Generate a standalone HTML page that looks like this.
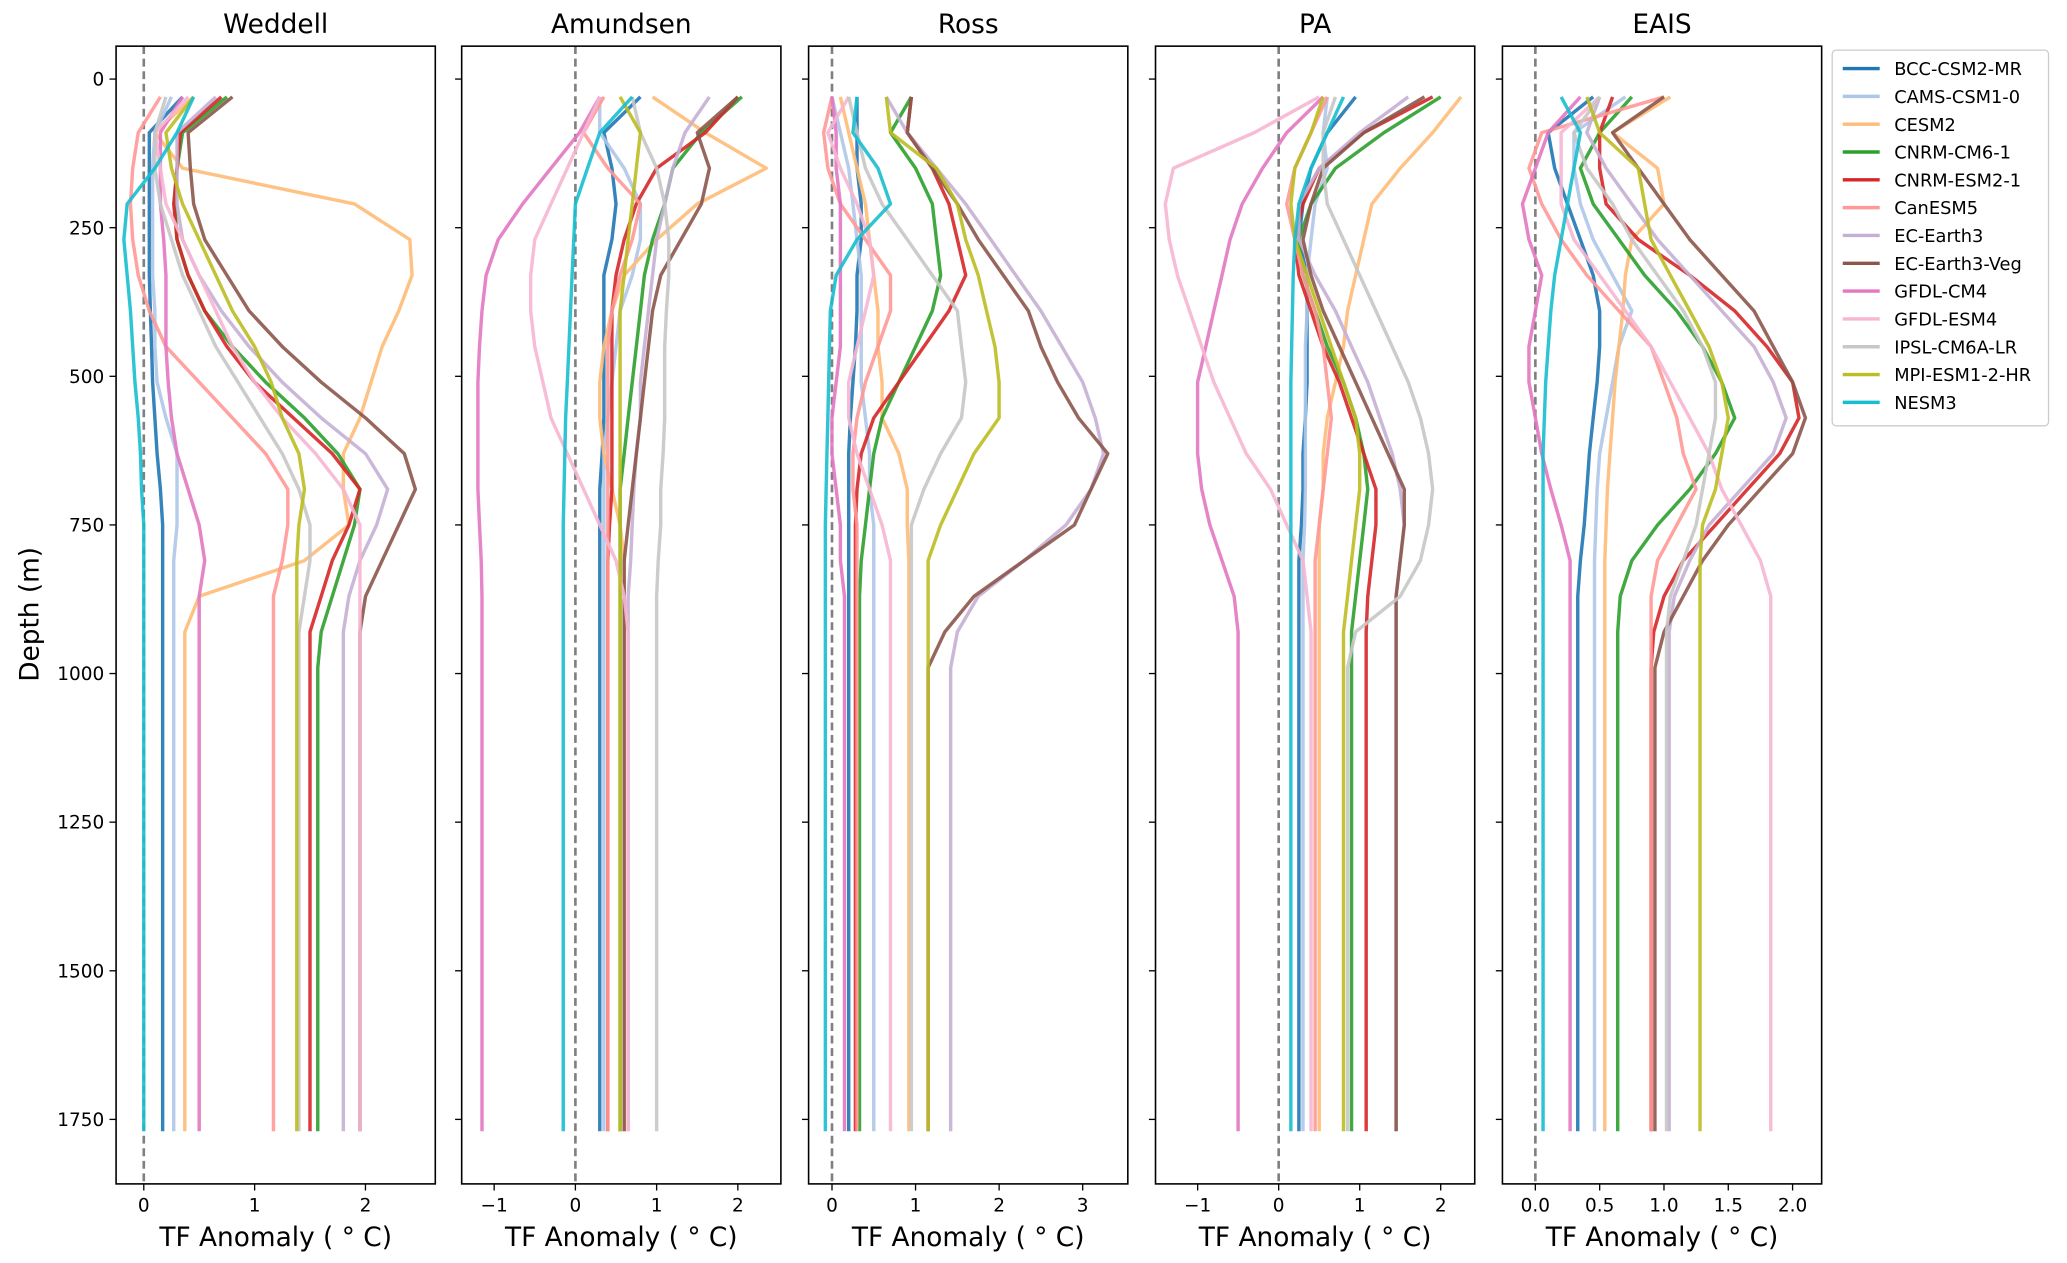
<!DOCTYPE html>
<html><head><meta charset="utf-8"><style>
html,body{margin:0;padding:0;background:#fff}
svg{display:block;font-family:"DejaVu Sans","Liberation Sans",sans-serif}
</style></head><body>
<svg id="chart" width="2067" height="1263" viewBox="0 0 1567 958" preserveAspectRatio="none" xmlns="http://www.w3.org/2000/svg"></svg>
<script>
const depths=[30,90,150,210,270,330,390,450,510,570,630,690,750,810,870,930,990,1770];
const models=["BCC-CSM2-MR","CAMS-CSM1-0","CESM2","CNRM-CM6-1","CNRM-ESM2-1","CanESM5","EC-Earth3","EC-Earth3-Veg","GFDL-CM4","GFDL-ESM4","IPSL-CM6A-LR","MPI-ESM1-2-HR","NESM3"];
const colors=["#1f77b4","#aec7e8","#ffbb78","#2ca02c","#d62728","#ff9896","#c5b0d5","#8c564b","#e377c2","#f7b6d2","#c7c7c7","#bcbd22","#17becf"];
const regions=["Weddell","Amundsen","Ross","PA","EAIS"];
const depthTicks=[0,250,500,750,1000,1250,1500,1750];
const xTicksWeddell=[0,1,2];
const xTicksAmundsen=[-1,0,1,2];
const xTicksRoss=[0,1,2,3];
const xTicksPA=[-1,0,1,2];
const xTicksEAIS=[0.0,0.5,1.0,1.5,2.0];
const xDomains=[[-0.25,2.63],[-1.4,2.53],[-0.28,3.54],[-1.52,2.42],[-0.256,2.226]];
const weddell=[
[0.35,0.05,0.05,0.05,0.05,0.05,0.06,0.07,0.08,0.1,0.12,0.15,0.17,0.17,0.17,0.17,0.17,0.17],
[0.25,0.1,0.08,0.08,0.08,0.08,0.1,0.1,0.12,0.2,0.3,0.3,0.3,0.27,0.27,0.27,0.27,0.27],
[0.45,0.1,0.35,1.9,2.4,2.42,2.3,2.15,2.05,1.95,1.8,1.8,1.85,1.45,0.5,0.37,0.37,0.37],
[0.75,0.35,0.3,0.28,0.3,0.4,0.55,0.8,1.1,1.45,1.75,1.95,1.9,1.8,1.7,1.6,1.57,1.57],
[0.7,0.33,0.3,0.27,0.3,0.4,0.55,0.75,1.0,1.35,1.7,1.95,1.85,1.7,1.6,1.5,1.5,1.5],
[0.15,-0.05,-0.1,-0.12,-0.1,-0.05,0.05,0.2,0.5,0.8,1.1,1.3,1.3,1.25,1.17,1.17,1.17,1.17],
[0.65,0.3,0.3,0.3,0.35,0.5,0.7,0.95,1.25,1.6,2.0,2.2,2.1,1.95,1.85,1.8,1.8,1.8],
[0.8,0.4,0.42,0.45,0.55,0.75,0.95,1.25,1.6,2.0,2.35,2.45,2.3,2.15,2.0,1.95,1.95,1.95],
[0.35,0.15,0.15,0.15,0.18,0.2,0.2,0.2,0.22,0.25,0.3,0.4,0.5,0.55,0.5,0.5,0.5,0.5],
[0.4,0.1,0.15,0.2,0.35,0.5,0.65,0.8,1.0,1.25,1.55,1.8,1.95,1.95,1.95,1.95,1.95,1.95],
[0.2,0.1,0.1,0.15,0.25,0.35,0.5,0.65,0.85,1.05,1.25,1.4,1.5,1.5,1.45,1.4,1.4,1.4],
[0.45,0.2,0.25,0.35,0.5,0.65,0.8,1.0,1.15,1.25,1.4,1.45,1.4,1.38,1.38,1.38,1.38,1.38],
[0.45,0.3,0.1,-0.15,-0.18,-0.15,-0.12,-0.1,-0.08,-0.05,-0.03,-0.02,0,0,0,0,0,0]];
const amundsen=[
[0.8,0.35,0.45,0.5,0.45,0.35,0.35,0.35,0.35,0.35,0.33,0.3,0.3,0.3,0.3,0.3,0.3,0.3],
[0.3,0.3,0.6,0.8,0.8,0.7,0.55,0.5,0.45,0.4,0.35,0.35,0.35,0.35,0.35,0.35,0.35,0.35],
[0.95,1.6,2.35,1.5,1.0,0.6,0.45,0.35,0.3,0.3,0.35,0.45,0.55,0.6,0.6,0.6,0.6,0.6],
[2.05,1.55,1.2,1.1,0.95,0.85,0.8,0.75,0.7,0.65,0.6,0.55,0.55,0.55,0.55,0.55,0.55,0.55],
[2.0,1.6,1.0,0.75,0.6,0.5,0.45,0.45,0.45,0.45,0.45,0.45,0.42,0.4,0.4,0.4,0.4,0.4],
[0.35,0.1,0.4,0.8,0.7,0.55,0.45,0.4,0.4,0.4,0.4,0.4,0.4,0.4,0.4,0.4,0.4,0.4],
[1.65,1.35,1.2,1.1,1.0,0.95,0.9,0.85,0.8,0.8,0.75,0.72,0.7,0.68,0.65,0.65,0.65,0.65],
[2.0,1.5,1.65,1.55,1.3,1.05,0.95,0.9,0.85,0.8,0.75,0.7,0.65,0.6,0.6,0.6,0.6,0.6],
[0.3,0.05,-0.3,-0.65,-0.95,-1.1,-1.15,-1.18,-1.2,-1.2,-1.2,-1.2,-1.18,-1.16,-1.15,-1.15,-1.15,-1.15],
[0.3,0.1,-0.1,-0.3,-0.5,-0.55,-0.55,-0.5,-0.4,-0.3,-0.1,0.1,0.3,0.5,0.6,0.65,0.65,0.65],
[0.7,0.8,1.0,1.1,1.15,1.15,1.12,1.1,1.1,1.1,1.08,1.05,1.05,1.02,1.0,1.0,1.0,1.0],
[0.55,0.8,0.75,0.7,0.65,0.6,0.55,0.55,0.55,0.55,0.55,0.55,0.55,0.55,0.55,0.55,0.55,0.55],
[0.7,0.3,0.15,0.0,-0.02,-0.04,-0.06,-0.08,-0.1,-0.12,-0.13,-0.14,-0.15,-0.15,-0.15,-0.15,-0.15,-0.15]];
const ross=[
[0.3,0.3,0.3,0.35,0.35,0.3,0.3,0.28,0.25,0.22,0.2,0.2,0.2,0.2,0.2,0.2,0.2,0.2],
[0.0,0.1,0.2,0.25,0.3,0.35,0.35,0.35,0.35,0.4,0.45,0.45,0.5,0.5,0.5,0.5,0.5,0.5],
[0.1,0.2,0.3,0.4,0.45,0.5,0.55,0.55,0.6,0.6,0.8,0.9,0.9,0.92,0.92,0.92,0.92,0.92],
[0.95,0.7,1.0,1.2,1.25,1.3,1.2,1.0,0.8,0.6,0.5,0.45,0.4,0.35,0.33,0.33,0.33,0.33],
[0.95,0.9,1.2,1.4,1.5,1.6,1.4,1.1,0.8,0.5,0.35,0.3,0.28,0.28,0.28,0.28,0.28,0.28],
[0.0,-0.1,-0.05,0.1,0.4,0.7,0.7,0.55,0.4,0.3,0.25,0.25,0.3,0.3,0.3,0.3,0.3,0.3],
[0.65,0.9,1.25,1.6,1.9,2.2,2.5,2.75,3.0,3.15,3.25,3.1,2.8,2.3,1.75,1.5,1.42,1.42],
[0.95,0.9,1.2,1.5,1.75,2.05,2.35,2.5,2.7,2.95,3.3,3.1,2.9,2.3,1.7,1.35,1.15,1.15],
[0.0,0.05,0.05,0.1,0.1,0.1,0.1,0.1,0.05,0.0,0.0,0.05,0.1,0.1,0.15,0.15,0.15,0.15],
[0.2,-0.05,0.1,0.3,0.45,0.5,0.4,0.3,0.2,0.2,0.3,0.45,0.6,0.7,0.7,0.7,0.7,0.7],
[0.2,0.3,0.4,0.6,0.9,1.2,1.5,1.55,1.6,1.55,1.3,1.1,0.95,0.95,0.95,0.95,0.95,0.95],
[0.65,0.7,1.25,1.5,1.6,1.75,1.85,1.95,2.0,2.0,1.7,1.5,1.3,1.15,1.15,1.15,1.15,1.15],
[0.3,0.25,0.55,0.7,0.3,0.05,-0.02,-0.03,-0.04,-0.05,-0.06,-0.07,-0.08,-0.08,-0.08,-0.08,-0.08,-0.08]];
const pa=[
[0.95,0.6,0.4,0.3,0.25,0.35,0.35,0.35,0.35,0.33,0.3,0.3,0.28,0.25,0.25,0.25,0.25,0.25],
[0.6,0.55,0.6,0.45,0.4,0.35,0.35,0.33,0.33,0.33,0.33,0.33,0.32,0.3,0.3,0.3,0.3,0.3],
[2.25,1.9,1.5,1.15,1.05,0.95,0.85,0.8,0.7,0.6,0.55,0.55,0.5,0.5,0.5,0.5,0.5,0.5],
[2.0,1.3,0.7,0.4,0.25,0.3,0.45,0.6,0.8,0.95,1.05,1.1,1.05,1.0,0.95,0.9,0.9,0.9],
[1.9,1.05,0.5,0.3,0.2,0.25,0.4,0.55,0.75,0.9,1.05,1.2,1.2,1.15,1.1,1.08,1.08,1.08],
[0.6,0.4,0.2,0.1,0.2,0.3,0.45,0.55,0.6,0.65,0.6,0.55,0.5,0.45,0.45,0.45,0.45,0.45],
[1.6,1.0,0.5,0.25,0.25,0.45,0.7,0.9,1.1,1.25,1.4,1.5,1.55,1.5,1.45,1.45,1.45,1.45],
[1.8,1.05,0.55,0.4,0.3,0.4,0.55,0.75,0.95,1.15,1.35,1.55,1.55,1.5,1.45,1.45,1.45,1.45],
[0.55,0.1,-0.2,-0.45,-0.6,-0.7,-0.8,-0.9,-1.0,-1.0,-1.0,-0.95,-0.85,-0.7,-0.55,-0.5,-0.5,-0.5],
[0.5,-0.3,-1.3,-1.4,-1.35,-1.25,-1.1,-0.95,-0.8,-0.6,-0.4,-0.1,0.1,0.3,0.35,0.4,0.4,0.4],
[0.7,0.55,0.55,0.6,0.8,1.0,1.2,1.4,1.6,1.75,1.85,1.9,1.85,1.75,1.5,0.95,0.85,0.85],
[0.55,0.4,0.2,0.15,0.2,0.35,0.5,0.65,0.8,0.95,1.0,1.0,0.95,0.9,0.85,0.8,0.8,0.8],
[0.8,0.6,0.4,0.25,0.2,0.18,0.17,0.16,0.15,0.15,0.15,0.15,0.15,0.15,0.15,0.15,0.15,0.15]];
const eais=[
[0.45,0.1,0.15,0.25,0.35,0.45,0.5,0.5,0.48,0.45,0.42,0.4,0.38,0.35,0.33,0.33,0.33,0.33],
[0.7,0.3,0.3,0.35,0.45,0.6,0.75,0.65,0.6,0.55,0.5,0.48,0.47,0.46,0.46,0.46,0.46,0.46],
[1.05,0.6,0.95,1.0,0.75,0.7,0.68,0.65,0.62,0.6,0.58,0.56,0.55,0.54,0.54,0.54,0.54,0.54],
[0.75,0.5,0.35,0.45,0.65,0.85,1.1,1.3,1.45,1.55,1.4,1.2,0.95,0.75,0.66,0.64,0.64,0.64],
[0.6,0.5,0.5,0.55,0.8,1.2,1.55,1.8,2.0,2.05,1.9,1.65,1.4,1.15,1.0,0.92,0.9,0.9],
[1.0,0.05,-0.05,0.05,0.2,0.4,0.65,0.9,1.0,1.1,1.15,1.25,1.1,0.95,0.9,0.9,0.9,0.9],
[0.5,0.4,0.55,0.75,0.95,1.2,1.45,1.7,1.85,1.95,1.85,1.6,1.35,1.2,1.08,1.04,1.04,1.04],
[1.0,0.6,0.8,1.0,1.2,1.45,1.7,1.85,2.0,2.1,2.0,1.75,1.5,1.3,1.15,1.0,0.93,0.93],
[0.35,0.1,0.0,-0.1,-0.05,0.05,0.0,-0.05,-0.05,0.0,0.05,0.12,0.2,0.27,0.27,0.27,0.27,0.27],
[0.5,0.2,0.2,0.2,0.3,0.5,0.7,0.9,1.05,1.2,1.35,1.45,1.6,1.75,1.83,1.83,1.83,1.83],
[0.5,0.3,0.4,0.6,0.75,0.95,1.15,1.3,1.4,1.4,1.35,1.3,1.25,1.15,1.05,1.02,1.02,1.02],
[0.4,0.5,0.8,0.85,0.9,1.05,1.2,1.35,1.45,1.5,1.45,1.4,1.3,1.28,1.28,1.28,1.28,1.28],
[0.2,0.35,0.3,0.25,0.2,0.15,0.12,0.1,0.08,0.07,0.06,0.06,0.06,0.06,0.06,0.06,0.06,0.06]];

const regionData=[weddell,amundsen,ross,pa,eais];
const regionTicks=[xTicksWeddell,xTicksAmundsen,xTicksRoss,xTicksPA,xTicksEAIS];
const NS="http://www.w3.org/2000/svg";
const svg=document.getElementById('chart');
function mk(tag,attrs,parent){const e=document.createElementNS(NS,tag);for(const k in attrs)e.setAttribute(k,attrs[k]);(parent||svg).appendChild(e);return e;}
const panelLeft=[88,350,613,876,1139], panelW=242, topY=35, bottomY=898;
const dMin=-55.4, dMax=1858.5;
function yScale(d){return topY+(d-dMin)/(dMax-dMin)*(bottomY-topY);}
function xScale(i,v){const [a,b]=xDomains[i];return panelLeft[i]+(v-a)/(b-a)*panelW;}

regions.forEach((name,i)=>{
  const g=mk('g',{});
  
  
  const L=panelLeft[i];
  const t=mk('text',{x:L+panelW/2,y:25,'text-anchor':'middle','font-size':20,fill:'#000'},g);
  t.textContent=name;
  
  
  const z=mk('line',{x1:xScale(i,0),x2:xScale(i,0),y1:topY,y2:bottomY,stroke:'#808080','stroke-width':2,'stroke-dasharray':'6,3.5'},g);
  
  
  regionData[i].forEach((vals,m)=>{
    const pts=vals.map((v,k)=>xScale(i,v).toFixed(1)+','+yScale(depths[k]).toFixed(1)).join(' ');
    const p=mk('polyline',{points:pts,fill:'none',stroke:colors[m],'stroke-width':2.6,'stroke-opacity':0.9,'stroke-linejoin':'round'},g);
    
    
  });
  const fr=mk('rect',{x:L,y:topY,width:panelW,height:bottomY-topY,fill:'none',stroke:'#000','stroke-width':1.2},g);
  
  
  depthTicks.forEach(d=>{
    const y=yScale(d);
    mk('line',{x1:L-5,x2:L,y1:y,y2:y,stroke:'#000','stroke-width':1},g);
    if(i===0){const tl=mk('text',{x:L-9,y:y+5,'text-anchor':'end','font-size':14,fill:'#000'},g);tl.textContent=d;
      
      }
  });
  regionTicks[i].forEach(v=>{
    const x=xScale(i,v);
    mk('line',{x1:x,x2:x,y1:bottomY,y2:bottomY+5,stroke:'#000','stroke-width':1},g);
    const tl=mk('text',{x:x,y:bottomY+21,'text-anchor':'middle','font-size':14,fill:'#000'},g);
    tl.textContent=(i===4)?v.toFixed(1):(v<0?'\u2212'+Math.abs(v):String(v));
    
    
  });
  const xl=mk('text',{x:L+panelW/2,y:945,'text-anchor':'middle','font-size':20,fill:'#000'},g);
  xl.textContent='TF Anomaly ( \u00b0 C)';
  
  
});
const yl=mk('text',{x:0,y:0,transform:'translate(29,466) rotate(-90)','text-anchor':'middle','font-size':20,fill:'#000'});
yl.textContent='Depth (m)';



const lg=mk('g',{});


mk('rect',{x:1389,y:38,width:164,height:285,rx:3,fill:'#fff',stroke:'#ccc','stroke-width':1},lg);
models.forEach((m,k)=>{
  const y=52+k*21.1;
  const e=mk('g',{},lg);
  
  
  mk('line',{x1:1397,x2:1425,y1:y,y2:y,stroke:colors[k],'stroke-width':2.6},e);
  const t=mk('text',{x:1436,y:y+5,'font-size':13.5,fill:'#000'},e);
  t.textContent=m;
});
</script>
</body></html>
